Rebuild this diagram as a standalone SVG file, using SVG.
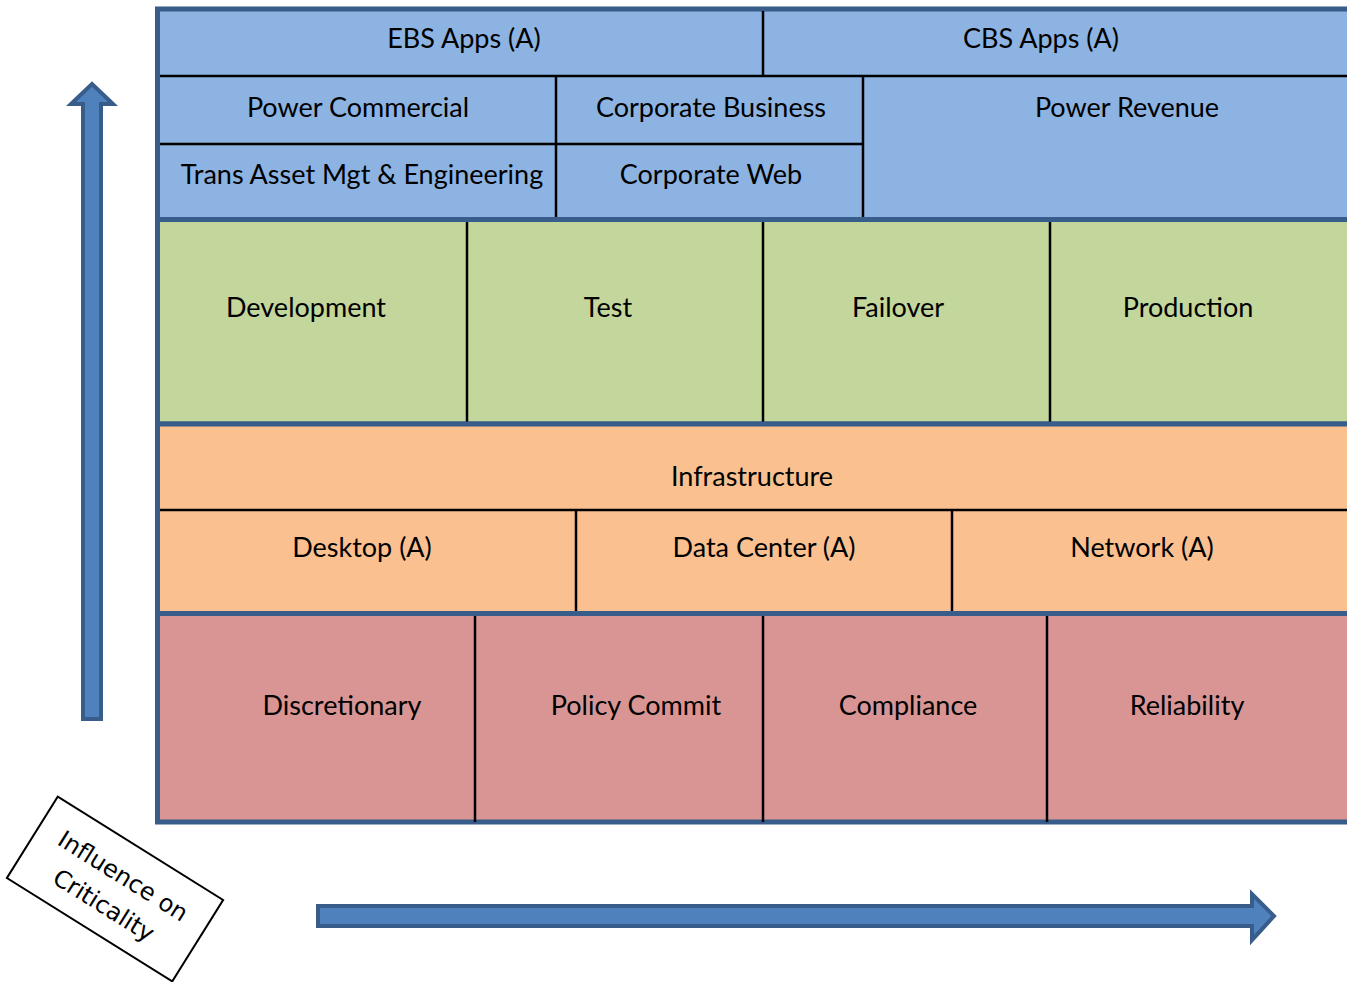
<svg xmlns="http://www.w3.org/2000/svg" width="1347" height="982" viewBox="0 0 1347 982">
  <style>
    .lbl { font-family: Lato, "Liberation Sans", sans-serif; font-size: 27px; fill: #000; text-anchor: middle; }
    .cap { font-family: "DejaVu Sans", Verdana, sans-serif; font-size: 24px; fill: #000; text-anchor: middle; }
    .band { stroke: #385d8a; stroke-width: 5; }
    .blue { fill: #8db3e2; }
    .green { fill: #c3d69b; }
    .orange { fill: #fac090; }
    .pink { fill: #d99594; }
    .div { stroke: #000; stroke-width: 2.5; fill: none; }
    .arrow { fill: #4f81bd; stroke: #385d8a; stroke-width: 4; stroke-linejoin: miter; }
  </style>
  <rect width="1347" height="982" fill="#fff"/>

  <!-- application band -->
  <g id="apps">
    <rect class="band blue" x="157.5" y="9" width="1200" height="210.5"/>
    <g class="div">
      <line x1="160" y1="76" x2="1352" y2="76"/>
      <line x1="763" y1="11" x2="763" y2="76"/>
      <line x1="160" y1="144" x2="863" y2="144"/>
      <line x1="556" y1="76" x2="556" y2="217"/>
      <line x1="863" y1="76" x2="863" y2="219"/>
    </g>
    <g id="ebs-apps"><text class="lbl" x="464" y="48">EBS Apps (A)</text></g>
    <g id="cbs-apps"><text class="lbl" x="1041" y="48">CBS Apps (A)</text></g>
    <g id="power-commercial"><text class="lbl" x="358" y="117">Power Commercial</text></g>
    <g id="corporate-business"><text class="lbl" x="711" y="117">Corporate Business</text></g>
    <g id="power-revenue"><text class="lbl" x="1127" y="117">Power Revenue</text></g>
    <g id="trans-asset"><text class="lbl" x="362" y="184">Trans Asset Mgt &amp; Engineering</text></g>
    <g id="corporate-web"><text class="lbl" x="711" y="184">Corporate Web</text></g>
  </g>

  <!-- environment band -->
  <g id="environments">
    <rect class="band green" x="157.5" y="219.5" width="1200" height="204.5"/>
    <g class="div">
      <line x1="467" y1="222" x2="467" y2="428"/>
      <line x1="763" y1="222" x2="763" y2="430"/>
      <line x1="1050" y1="222" x2="1050" y2="430"/>
    </g>
    <g id="development"><text class="lbl" x="306" y="317">Development</text></g>
    <g id="test"><text class="lbl" x="608" y="317">Test</text></g>
    <g id="failover"><text class="lbl" x="898" y="317">Failover</text></g>
    <g id="production"><text class="lbl" x="1188" y="317">Production</text></g>
  </g>

  <!-- infrastructure band -->
  <g id="infrastructure-band">
    <rect class="band orange" x="157.5" y="424" width="1200" height="189.5"/>
    <g class="div">
      <line x1="160" y1="510" x2="1352" y2="510"/>
      <line x1="576" y1="510" x2="576" y2="612"/>
      <line x1="952" y1="510" x2="952" y2="612"/>
    </g>
    <g id="infrastructure"><text class="lbl" x="752" y="486">Infrastructure</text></g>
    <g id="desktop"><text class="lbl" x="362" y="557">Desktop (A)</text></g>
    <g id="data-center"><text class="lbl" x="764" y="557">Data Center (A)</text></g>
    <g id="network"><text class="lbl" x="1142" y="557">Network (A)</text></g>
  </g>

  <!-- driver band -->
  <g id="drivers">
    <rect class="band pink" x="157.5" y="613.5" width="1200" height="208.5"/>
    <g class="div">
      <line x1="475" y1="616" x2="475" y2="822"/>
      <line x1="763" y1="616" x2="763" y2="822"/>
      <line x1="1047" y1="616" x2="1047" y2="822"/>
    </g>
    <g id="discretionary"><text class="lbl" x="342" y="715">Discretionary</text></g>
    <g id="policy-commit"><text class="lbl" x="636" y="715">Policy Commit</text></g>
    <g id="compliance"><text class="lbl" x="908" y="715">Compliance</text></g>
    <g id="reliability"><text class="lbl" x="1187" y="715">Reliability</text></g>
  </g>

  <!-- axis arrows -->
  <g id="connectors">
    <path class="arrow" d="M83 719 L83 104 L71 104 L92 84 L113 104 L101 104 L101 719 Z"/>
    <path class="arrow" d="M318 906 L1252 906 L1252 894 L1274 916 L1252 940 L1252 926 L318 926 Z"/>
  </g>

  <!-- axis caption -->
  <g id="criticality-label" transform="translate(115 889) rotate(32)">
    <rect x="-97.5" y="-48" width="195" height="96" fill="#fff" stroke="#000" stroke-width="2"/>
    <text class="cap" x="0" y="-7">Influence on</text>
    <text class="cap" x="-1" y="28">Criticality</text>
  </g>
</svg>
